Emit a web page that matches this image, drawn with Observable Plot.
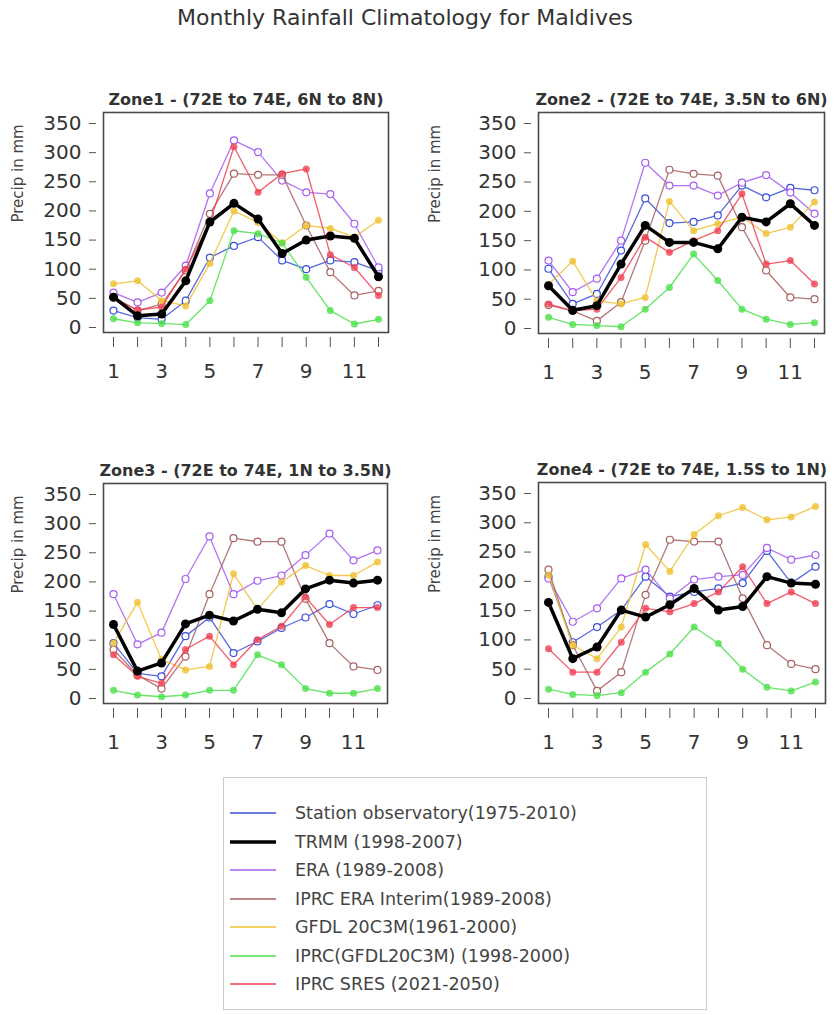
<!DOCTYPE html>
<html>
<head>
<meta charset="utf-8">
<script src="https://cdn.jsdelivr.net/npm/d3@7"></script>
<script src="https://cdn.jsdelivr.net/npm/@observablehq/plot@0.6"></script>
<style>
  body { margin: 0; background: #fff; }
  #fig { position: relative; width: 834px; height: 1015px; overflow: hidden; font-family: "DejaVu Sans", sans-serif; background: #fff; }
  #fig > svg { position: absolute; }
  #title { position: absolute; left: 0; width: 810px; top: 5px; text-align: center; font-size: 22px; color: #333; }
  #legend { position: absolute; left: 223px; top: 777px; width: 484px; height: 233px; border: 1px solid #ccc; box-sizing: border-box; }
  .lrow { position: absolute; left: 0; height: 24px; display: flex; align-items: center; }
  .lrow span { font-size: 17.5px; color: #444; margin-left: 19px; white-space: nowrap; }
</style>
</head>
<body>
<div id="fig">
  <div id="title">Monthly Rainfall Climatology for Maldives</div>
  <div id="legend"></div>
</div>
<script>
// ---- data ----
const months = [1, 2, 3, 4, 5, 6, 7, 8, 9, 10, 11, 12];
const xLabels = [1, 3, 5, 7, 9, 11];
const yTicks = [0, 50, 100, 150, 200, 250, 300, 350];
const seriesNames = [
  "Station observatory(1975-2010)",
  "TRMM (1998-2007)",
  "ERA (1989-2008)",
  "IPRC ERA Interim(1989-2008)",
  "GFDL 20C3M(1961-2000)",
  "IPRC(GFDL20C3M) (1998-2000)",
  "IPRC SRES (2021-2050)"
];
const seriesColors = ["#3a4fd8", "#000000", "#a65cf0", "#a86060", "#efc030", "#4ce04c", "#f04050"];
const zoneTitles = [
  "Zone1 - (72E to 74E, 6N to 8N)",
  "Zone2 - (72E to 74E, 3.5N to 6N)",
  "Zone3 - (72E to 74E, 1N to 3.5N)",
  "Zone4 - (72E to 74E, 1.5S to 1N)"
];
const yLabel = "Precip in mm";

// Zone 1
const zone1Station  = [29, 17, 14, 46, 120, 140, 155, 115, 100, 115, 112, 97];
const zone1Trmm     = [52, 20, 23, 80, 181, 213, 186, 127, 150, 157, 153, 87];
const zone1Era      = [60, 43, 60, 106, 230, 321, 301, 252, 232, 229, 178, 103];
const zone1IprcEra  = [52, 29, 40, 98, 195, 264, 262, 262, 175, 95, 55, 63];
const zone1Gfdl     = [75, 80, 46, 37, 110, 200, 180, 145, 175, 170, 155, 184];
const zone1IprcGfdl = [15, 8, 7, 5, 46, 166, 161, 145, 86, 29, 6, 14];
const zone1Sres     = [50, 30, 35, 100, 180, 310, 232, 264, 272, 125, 103, 55];
// Zone 2
const zone2Station  = [102, 42, 59, 133, 222, 180, 182, 193, 244, 224, 240, 236];
const zone2Trmm     = [73, 31, 39, 110, 176, 147, 147, 136, 190, 182, 213, 176];
const zone2Era      = [116, 62, 85, 150, 283, 244, 244, 227, 249, 262, 232, 196];
const zone2IprcEra  = [40, 30, 13, 45, 150, 271, 264, 261, 173, 99, 53, 50];
const zone2Gfdl     = [75, 115, 47, 42, 53, 217, 167, 179, 190, 162, 173, 216];
const zone2IprcGfdl = [19, 7, 5, 3, 33, 70, 127, 82, 33, 16, 7, 10];
const zone2Sres     = [42, 30, 33, 87, 156, 130, 150, 167, 230, 110, 116, 76];
// Zone 3
const zone3Station  = [95, 43, 38, 107, 139, 78, 98, 121, 139, 162, 145, 160];
const zone3Trmm     = [127, 47, 61, 128, 143, 133, 153, 147, 188, 203, 198, 203];
const zone3Era      = [179, 93, 113, 205, 278, 179, 202, 211, 246, 283, 237, 254];
const zone3IprcEra  = [84, 40, 17, 72, 179, 275, 269, 269, 171, 95, 55, 49];
const zone3Gfdl     = [95, 165, 67, 49, 55, 214, 153, 200, 228, 211, 211, 234];
const zone3IprcGfdl = [14, 6, 3, 6, 14, 14, 75, 58, 17, 9, 9, 17];
const zone3Sres     = [75, 38, 26, 84, 107, 58, 101, 124, 174, 127, 156, 156];
// Zone 4
const zone4Station  = [208, 96, 122, 151, 208, 174, 182, 188, 197, 252, 197, 225];
const zone4Trmm     = [164, 68, 88, 151, 139, 160, 188, 151, 157, 208, 197, 195];
const zone4Era      = [205, 131, 154, 205, 220, 171, 203, 208, 211, 257, 237, 245];
const zone4IprcEra  = [220, 91, 13, 45, 177, 271, 268, 268, 171, 91, 59, 50];
const zone4Gfdl     = [211, 91, 68, 122, 263, 217, 280, 312, 326, 305, 310, 328];
const zone4IprcGfdl = [16, 7, 5, 10, 45, 76, 122, 94, 50, 19, 13, 28];
const zone4Sres     = [85, 45, 45, 96, 154, 148, 162, 182, 225, 162, 182, 162];

const zones = [
  [zone1Station, zone1Trmm, zone1Era, zone1IprcEra, zone1Gfdl, zone1IprcGfdl, zone1Sres],
  [zone2Station, zone2Trmm, zone2Era, zone2IprcEra, zone2Gfdl, zone2IprcGfdl, zone2Sres],
  [zone3Station, zone3Trmm, zone3Era, zone3IprcEra, zone3Gfdl, zone3IprcGfdl, zone3Sres],
  [zone4Station, zone4Trmm, zone4Era, zone4IprcEra, zone4Gfdl, zone4IprcGfdl, zone4Sres]
];

// ---- drawing ----
const filled = [false, true, false, false, true, true, true];
const drawOrder = [0, 2, 3, 4, 5, 6, 1];
const FONT = "DejaVu Sans, sans-serif";

function panel(zi, left, top, fl, fr, ft, fb) {
  const W = 417, H = 300;
  const rows = [];
  zones[zi].forEach((vals, s) => vals.forEach((v, i) => rows.push({series: seriesNames[s], month: months[i], value: v})));
  const marks = [
    Plot.frame({stroke: "#4a4a4a", strokeWidth: 1.6}),
    Plot.axisY({ticks: yTicks, tickSize: 7, dx: -7, tickPadding: 8, fontSize: 20, label: null, stroke: "#555"}),
    Plot.axisX({ticks: months, tickFormat: d => xLabels.includes(d) ? String(d) : "", tickSize: 10, dy: 5, tickPadding: 16, fontSize: 20, label: null, stroke: "#555"}),
    Plot.text([yLabel], {frameAnchor: "left", text: d => d, rotate: -90, dx: (left + 18) - fl, fontSize: 15, fill: "#444"}),
    Plot.text([zoneTitles[zi]], {frameAnchor: "top", text: d => d, dy: -19, fontSize: 16, fontWeight: "bold", fill: "#333"})
  ];
  for (const s of drawOrder) {
    const name = seriesNames[s];
    const data = rows.filter(d => d.series === name);
    const thick = s === 1;
    marks.push(Plot.line(data, {x: "month", y: "value", stroke: "series", strokeWidth: thick ? 3.5 : 1.3, strokeOpacity: thick ? 1 : 0.85}));
    marks.push(Plot.dot(data, filled[s]
      ? {x: "month", y: "value", fill: "series", r: thick ? 4.5 : 3.5, fillOpacity: thick ? 1 : 0.8}
      : {x: "month", y: "value", stroke: "series", fill: "white", r: 3.5, strokeWidth: 1.2}));
  }
  const svg = Plot.plot({
    width: W, height: H,
    marginLeft: fl - left, marginRight: W - (fr - left), marginTop: ft - top, marginBottom: H - (fb - top),
    x: {domain: [1, 12], insetLeft: 10, insetRight: 10},
    y: {domain: [0, 350], insetTop: 11, insetBottom: 5},
    color: {domain: seriesNames, range: seriesColors},
    style: {fontFamily: FONT, color: "#333", background: "transparent", overflow: "visible"},
    marks
  });
  svg.style.left = left + "px";
  svg.style.top = top + "px";
  document.getElementById("fig").appendChild(svg);
}

panel(0, 0, 60, 103, 388, 112, 332);
panel(1, 417, 60, 538, 824, 112, 333);
panel(2, 0, 430, 103, 387, 483, 703);
panel(3, 417, 430, 538, 825, 482, 703);

// ---- legend ----
const legend = d3.select("#legend");
seriesNames.forEach((name, i) => {
  const row = legend.append("div").attr("class", "lrow")
    .style("top", (812 + 28.5 * i - 777 - 12) + "px")
    .style("left", (230 - 224) + "px");
  const sw = row.append("svg").attr("width", 46).attr("height", 10);
  sw.append("line").attr("x1", 0).attr("x2", 46).attr("y1", 5).attr("y2", 5)
    .attr("stroke", seriesColors[i]).attr("stroke-width", i === 1 ? 3.5 : 1.6);
  row.append("span").text(name);
});
</script>
</body>
</html>
